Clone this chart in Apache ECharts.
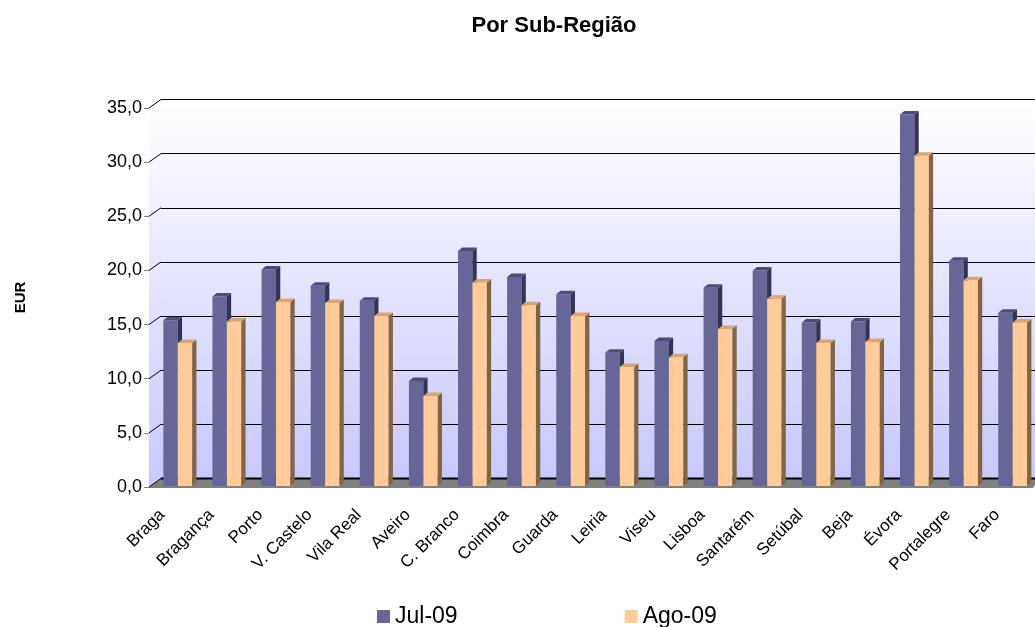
<!DOCTYPE html>
<html>
<head>
<meta charset="utf-8">
<script src="https://cdn.jsdelivr.net/npm/echarts@6/dist/echarts.min.js"></script>
<style>
  html, body { margin: 0; padding: 0; background: #fff; }
  #chart { width: 1035px; height: 627px; }
</style>
</head>
<body>
<div id="chart"></div>
<script>
const categories = ['Braga', 'Bragança', 'Porto', 'V. Castelo', 'Vila Real', 'Aveiro', 'C. Branco', 'Coimbra', 'Guarda',
  'Leiria', 'Viseu', 'Lisboa', 'Santarém', 'Setúbal', 'Beja', 'Évora', 'Portalegre', 'Faro']
const jul09 = [15.3, 17.5, 20.0, 18.5, 17.1, 9.7, 21.7, 19.3, 17.7, 12.3, 13.4, 18.3, 19.9, 15.1, 15.2, 34.3, 20.8, 16.0]
const ago09 = [13.2, 15.2, 17.0, 16.9, 15.7, 8.3, 18.8, 16.7, 15.7, 11.0, 11.9, 14.5, 17.3, 13.2, 13.3, 30.5, 19.0, 15.1]
const yTicks = [0, 5, 10, 15, 20, 25, 30, 35]

const chart = echarts.init(document.getElementById('chart'))
const font = 'Arial, "Liberation Sans", sans-serif'
const DX = 12
const DY = -8.5

const wallGradient = new echarts.graphic.LinearGradient(0, 0, 0, 1, [
  { offset: 0, color: '#ffffff' },
  { offset: 1, color: '#c8c8fc' }
])

// 3D-ish column: front face, right side, top
const barRenderer = (offsetFrac, colors) => (params, api) => {
  const band = api.size([1, 0])[0]
  const top = api.coord([api.value(0), api.value(1)])
  const base = api.coord([api.value(0), 0])
  const w = band * 0.293
  const x0 = top[0] + band * offsetFrac
  const x1 = x0 + w
  const yTop = top[1] - 1
  const yBot = base[1] - 1
  const dx = 4.3
  const dy = -3.5
  return {
    type: 'group',
    children: [
      { type: 'rect', shape: { x: x0, y: yTop, width: w, height: yBot - yTop }, style: { fill: colors[0] } },
      { type: 'polygon', shape: { points: [[x1, yTop], [x1 + dx, yTop + dy], [x1 + dx, yBot + dy], [x1, yBot]] }, style: { fill: colors[1] } },
      { type: 'polygon', shape: { points: [[x0, yTop], [x0 + dx, yTop + dy], [x1 + dx, yTop + dy], [x1, yTop]] }, style: { fill: colors[2] } }
    ]
  }
}

const julColors = ['#666699', '#333355', '#4d4d7a']
const agoColors = ['#ffcc99', '#806547', '#d6a676']

chart.setOption({
  animation: false,
  title: {
    text: 'Por Sub-Região',
    left: 549,
    top: 10,
    textAlign: 'center',
    textStyle: { fontFamily: font, fontSize: 22, fontWeight: 'bold', color: '#000' }
  },
  legend: {
    left: 372,
    top: 600,
    itemWidth: 13,
    itemHeight: 13,
    itemGap: 167,
    icon: 'rect',
    textStyle: { fontFamily: font, fontSize: 23, color: '#000' },
    data: [
      { name: 'Jul-09', itemStyle: { color: julColors[0] } },
      { name: 'Ago-09', itemStyle: { color: agoColors[0] } }
    ]
  },
  grid: [
    // back wall
    { left: 149 + DX, right: 2 - DX, top: 108 + DY, bottom: 140 - DY, show: true, borderWidth: 0, backgroundColor: wallGradient },
    // front plane
    { left: 149, right: 2, top: 108, bottom: 140 }
  ],
  xAxis: [
    {
      gridIndex: 0, type: 'value', min: 0, max: 1,
      axisLabel: { show: false }, axisTick: { show: false }, splitLine: { show: false },
      axisLine: { show: true, lineStyle: { color: '#000', width: 2 } }
    },
    {
      gridIndex: 1, type: 'category', data: categories,
      axisLine: { lineStyle: { color: '#808080', width: 1 } },
      axisTick: { lineStyle: { color: '#808080' }, length: 6 },
      axisLabel: {
        rotate: 45, margin: 14, padding: [0, 16, 0, 0],
        fontFamily: font, fontSize: 17, color: '#000', interval: 0
      }
    }
  ],
  yAxis: [
    {
      gridIndex: 0, type: 'value', min: 0, max: 35, interval: 5,
      axisLabel: { show: false }, axisTick: { show: false }, axisLine: { show: false },
      splitLine: { lineStyle: { color: '#000', width: 1 } }
    },
    {
      gridIndex: 1, type: 'value', min: 0, max: 35, interval: 5,
      name: 'EUR', nameLocation: 'middle', nameGap: 121, nameRotate: 90,
      nameTextStyle: { fontFamily: font, fontSize: 15, fontWeight: 'bold', color: '#000' },
      axisLine: { show: true, lineStyle: { color: '#808080', width: 1 } },
      axisTick: { show: true, length: 5, lineStyle: { color: '#808080' } },
      axisLabel: {
        fontFamily: font, fontSize: 18, color: '#000', margin: 7,
        formatter: (v) => v.toFixed(1).replace('.', ',')
      },
      splitLine: { show: false }
    }
  ],
  series: [
    {
      // left side wall and floor
      type: 'custom',
      xAxisIndex: 1,
      yAxisIndex: 1,
      silent: true,
      z: 1,
      data: [[0, 0]],
      renderItem: (params, api) => {
        const cs = params.coordSys
        const x = cs.x
        const yT = cs.y
        const yB = cs.y + cs.height
        const xr = cs.x + cs.width
        return {
          type: 'group',
          children: [
            { type: 'polygon', shape: { points: [[x, yB], [x + DX, yB + DY], [x + DX, yT + DY], [x, yT]] }, style: { fill: wallGradient } },
            { type: 'polygon', shape: { points: [[x, yB], [x + DX, yB + DY], [xr + DX, yB + DY], [xr, yB]] }, style: { fill: '#808080' } },
            { type: 'line', shape: { x1: x + DX, y1: yB + DY, x2: xr + DX, y2: yB + DY }, style: { stroke: '#000', lineWidth: 2 } }
          ]
        }
      }
    },
    {
      // diagonal tick connectors on the side wall
      type: 'custom',
      xAxisIndex: 1,
      yAxisIndex: 1,
      silent: true,
      z: 2,
      data: yTicks.map((v) => [0, v]),
      renderItem: (params, api) => {
        const x = params.coordSys.x
        const p = api.coord([0, api.value(1)])
        return {
          type: 'line',
          shape: { x1: x, y1: p[1], x2: x + DX, y2: p[1] + DY },
          style: { stroke: '#000', lineWidth: 1 }
        }
      }
    },
    {
      name: 'Jul-09',
      type: 'custom',
      xAxisIndex: 1,
      yAxisIndex: 1,
      z: 5,
      itemStyle: { color: julColors[0] },
      data: jul09.map((v, i) => [i, v]),
      renderItem: barRenderer(-0.208, julColors)
    },
    {
      name: 'Ago-09',
      type: 'custom',
      xAxisIndex: 1,
      yAxisIndex: 1,
      z: 5,
      itemStyle: { color: agoColors[0] },
      data: ago09.map((v, i) => [i, v]),
      renderItem: barRenderer(0.086, agoColors)
    }
  ]
})
</script>
</body>
</html>
